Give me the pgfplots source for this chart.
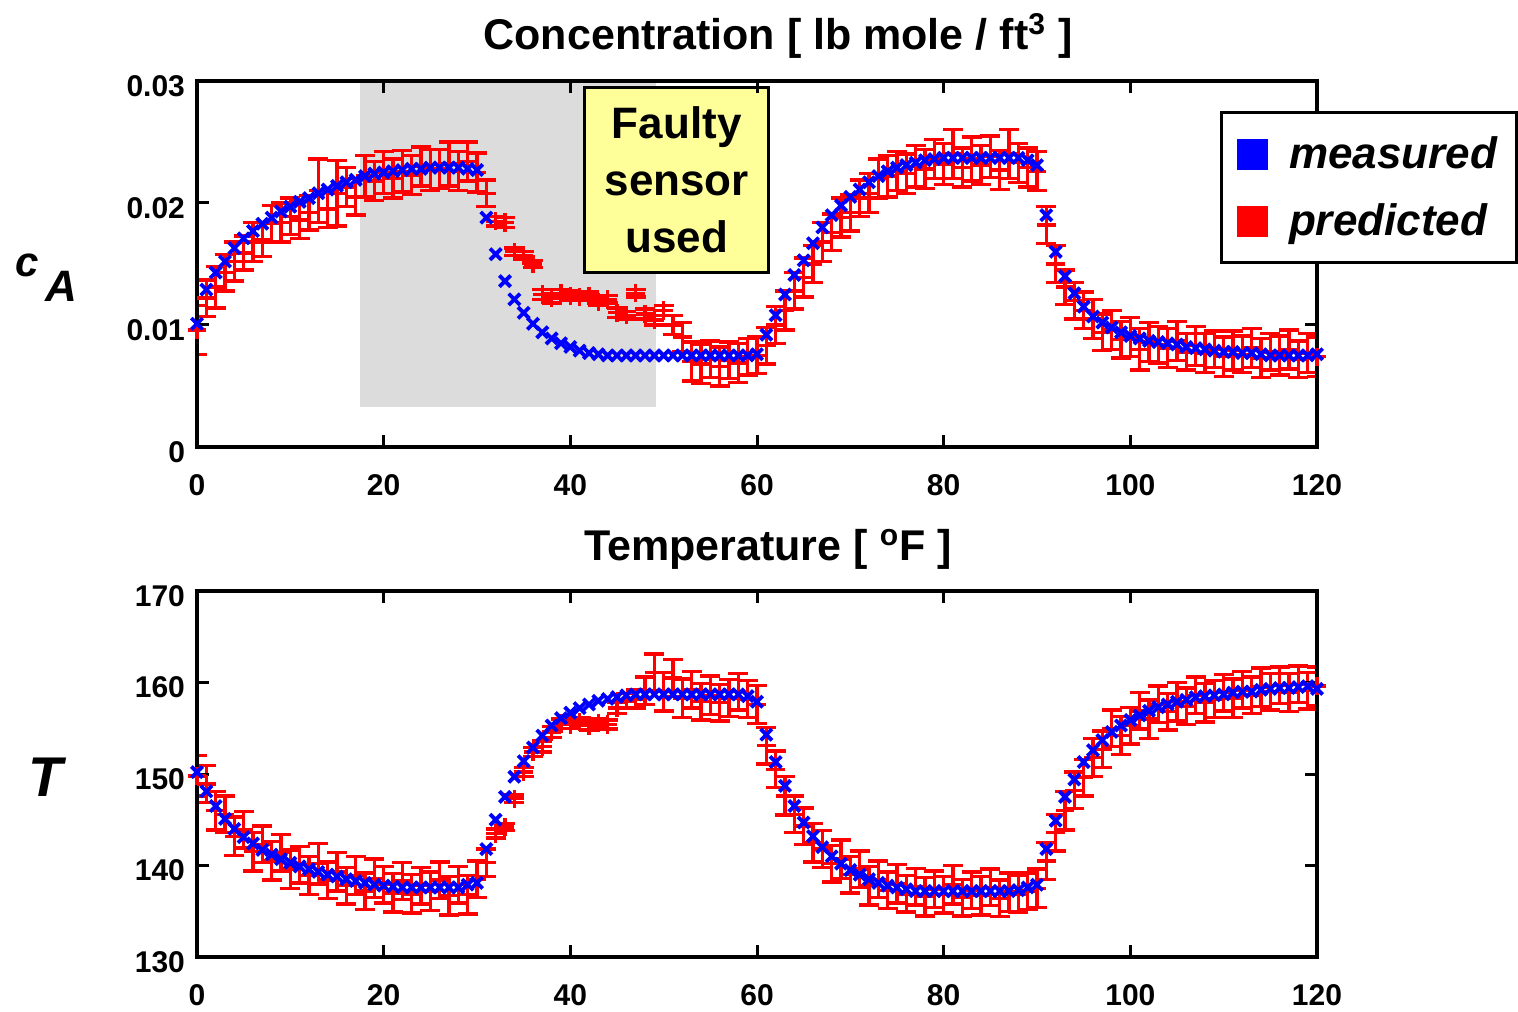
\documentclass[border=0pt]{standalone}
\usepackage{pgfplots}
\pgfplotsset{compat=1.18}
\usepackage{pgfplotstable}
\usepackage{fontspec}
\setmainfont{Liberation Sans}
\definecolor{zonegray}{RGB}{220,220,220}
\definecolor{note}{RGB}{255,255,153}

% x: time, ca/T: measured, cap/Tp: predicted, cae/Te: error of prediction
\pgfplotstableread{
x ca cap cae T Tp Te
0 0.0101 0.0096 0.0020 150.2 149.8 2.2
1 0.0129 0.0122 0.0015 148.1 148.9 2.0
2 0.0143 0.0131 0.0017 146.5 146.0 2.1
3 0.0152 0.0143 0.0015 145.1 145.6 2.0
4 0.0163 0.0152 0.0016 144.0 143.2 2.1
5 0.0171 0.0159 0.0014 143.1 143.9 2.0
6 0.0177 0.0168 0.0016 142.4 141.5 2.1
7 0.0183 0.0170 0.0014 141.7 142.3 2.0
8 0.0188 0.0183 0.0015 141.2 140.5 2.1
9 0.0193 0.0184 0.0016 140.7 141.4 2.0
10 0.0197 0.0189 0.0015 140.3 139.6 2.1
11 0.0201 0.0186 0.0015 139.9 140.1 2.0
12 0.0204 0.0192 0.0014 139.6 138.9 2.1
13 0.0208 0.0210 0.0026 139.3 140.2 2.2
14 0.0211 0.0195 0.0015 139.0 138.4 2.0
15 0.0214 0.0208 0.0027 138.8 139.3 2.1
16 0.0217 0.0213 0.0016 138.5 137.8 2.0
17 0.0219 0.0205 0.0015 138.3 138.9 2.1
18 0.0222 0.0222 0.0017 138.1 137.2 2.0
19 0.0224 0.0218 0.0016 137.9 138.6 2.1
20 0.0225 0.0225 0.0017 137.8 137.9 2.0
21 0.0226 0.0220 0.0016 137.7 137.0 2.1
22 0.0227 0.0226 0.0017 137.6 138.3 2.0
23 0.0228 0.0223 0.0016 137.6 136.9 2.1
24 0.0228 0.0230 0.0016 137.6 137.8 2.0
25 0.0229 0.0227 0.0017 137.6 137.2 2.1
26 0.0229 0.0228 0.0016 137.6 138.4 2.0
27 0.0229 0.0232 0.0018 137.6 136.7 2.1
28 0.0229 0.0226 0.0016 137.6 137.9 2.0
29 0.0228 0.0234 0.0016 137.9 136.8 2.1
30 0.0227 0.0225 0.0016 138.1 138.5 2.0
31 0.0188 0.0208 0.0011 141.8 140.3 1.5
32 0.0158 0.0185 0.0004 145.0 143.5 0.5
33 0.0136 0.0184 0.0004 147.5 144.2 0.4
34 0.0121 0.0160 0.0003 149.7 147.3 0.4
35 0.0110 0.0157 0.0003 151.4 150.2 0.5
36 0.0101 0.0150 0.0003 152.9 152.4 0.5
37 0.0094 0.0125 0.0004 154.2 153.0 0.6
38 0.0089 0.0122 0.0004 155.3 154.6 0.6
39 0.0085 0.0126 0.0003 156.1 155.5 0.5
40 0.0082 0.0124 0.0004 156.7 155.4 0.4
41 0.0079 0.0123 0.0003 157.2 155.7 0.4
42 0.0077 0.0124 0.0003 157.6 155.3 0.5
43 0.0076 0.0119 0.0003 158.0 155.6 0.4
44 0.0075 0.0121 0.0003 158.2 155.4 0.5
45 0.0075 0.0110 0.0004 158.4 157.2 0.6
46 0.0075 0.0108 0.0003 158.6 158.0 0.8
47 0.0075 0.0126 0.0003 158.7 158.2 1.0
48 0.0075 0.0109 0.0004 158.7 159.1 1.5
49 0.0075 0.0104 0.0004 158.7 161.1 2.0
50 0.0075 0.0112 0.0004 158.7 159.0 2.1
51 0.0075 0.0100 0.0008 158.7 160.5 2.0
52 0.0075 0.0090 0.0012 158.7 158.3 2.1
53 0.0075 0.0070 0.0016 158.7 159.2 2.0
54 0.0075 0.0068 0.0016 158.7 157.9 2.0
55 0.0075 0.0072 0.0015 158.7 158.6 2.1
56 0.0075 0.0066 0.0016 158.7 157.8 2.0
57 0.0075 0.0071 0.0015 158.7 158.3 2.0
58 0.0075 0.0069 0.0016 158.7 159.0 2.0
59 0.0075 0.0074 0.0015 158.5 158.2 2.0
60 0.0076 0.0075 0.0015 157.9 157.6 2.1
61 0.0092 0.0083 0.0015 154.3 153.1 2.0
62 0.0108 0.0100 0.0015 151.3 150.5 2.0
63 0.0125 0.0112 0.0016 148.7 147.6 2.1
64 0.0141 0.0128 0.0015 146.5 145.6 2.0
65 0.0153 0.0139 0.0016 144.7 144.3 2.0
66 0.0167 0.0150 0.0015 143.2 142.5 2.1
67 0.0180 0.0168 0.0016 142.0 141.8 2.0
68 0.0190 0.0176 0.0015 141.0 140.2 2.0
69 0.0198 0.0188 0.0016 140.2 140.7 2.1
70 0.0205 0.0192 0.0015 139.5 139.0 2.0
71 0.0211 0.0204 0.0015 139.0 139.6 2.0
72 0.0217 0.0208 0.0016 138.5 137.8 2.1
73 0.0222 0.0220 0.0016 138.1 138.5 2.0
74 0.0226 0.0222 0.0017 137.8 137.3 2.0
75 0.0229 0.0226 0.0016 137.6 138.0 2.1
76 0.0231 0.0224 0.0016 137.4 136.9 2.0
77 0.0233 0.0230 0.0017 137.2 137.7 2.0
78 0.0235 0.0228 0.0016 137.2 136.6 2.1
79 0.0236 0.0236 0.0016 137.2 137.4 2.0
80 0.0237 0.0232 0.0017 137.2 136.8 2.0
81 0.0237 0.0240 0.0020 137.2 137.9 2.1
82 0.0237 0.0229 0.0016 137.2 136.5 2.0
83 0.0237 0.0236 0.0018 137.2 137.3 2.0
84 0.0237 0.0231 0.0016 137.2 136.7 2.1
85 0.0237 0.0238 0.0017 137.2 137.6 2.0
86 0.0237 0.0227 0.0016 137.2 136.4 2.0
87 0.0237 0.0240 0.0020 137.2 137.1 2.1
88 0.0237 0.0233 0.0016 137.3 136.9 2.0
89 0.0235 0.0229 0.0016 137.6 137.2 2.0
90 0.0231 0.0226 0.0016 137.9 137.5 2.1
91 0.0190 0.0182 0.0015 141.8 140.5 2.0
92 0.0160 0.0150 0.0015 144.9 143.6 2.0
93 0.0140 0.0131 0.0014 147.5 146.0 2.1
94 0.0126 0.0120 0.0015 149.4 148.2 2.0
95 0.0115 0.0112 0.0015 151.3 149.6 2.0
96 0.0107 0.0105 0.0016 152.6 151.8 2.1
97 0.0102 0.0094 0.0015 153.7 152.7 2.0
98 0.0098 0.0096 0.0016 154.6 155.0 2.0
99 0.0094 0.0088 0.0015 155.3 154.2 2.1
100 0.0091 0.0090 0.0016 155.9 155.3 2.0
101 0.0089 0.0080 0.0017 156.4 156.9 2.0
102 0.0087 0.0086 0.0016 156.9 156.0 2.1
103 0.0086 0.0084 0.0015 157.3 157.6 2.0
104 0.0085 0.0081 0.0016 157.6 156.8 2.0
105 0.0084 0.0087 0.0016 157.9 157.9 2.1
106 0.0082 0.0078 0.0015 158.1 157.4 2.0
107 0.0081 0.0083 0.0016 158.4 158.6 2.0
108 0.0080 0.0077 0.0016 158.5 157.8 2.1
109 0.0079 0.0080 0.0015 158.6 158.2 2.0
110 0.0078 0.0074 0.0016 158.7 158.9 2.0
111 0.0078 0.0079 0.0016 158.9 158.3 2.1
112 0.0077 0.0076 0.0015 159.0 159.2 2.0
113 0.0077 0.0081 0.0016 159.0 158.6 2.0
114 0.0076 0.0073 0.0016 159.2 159.5 2.1
115 0.0075 0.0078 0.0015 159.3 159.0 2.0
116 0.0075 0.0075 0.0016 159.4 159.7 2.0
117 0.0075 0.0080 0.0016 159.4 158.9 2.1
118 0.0075 0.0072 0.0015 159.5 159.8 2.0
119 0.0075 0.0077 0.0016 159.6 159.1 2.0
120 0.0076 0.0074 0.0016 159.3 159.6 2.1
}\datatable

\pgfplotsset{
  panel/.style={
    scale only axis, width=560pt, height=183pt,
    xmin=0, xmax=120,
    xtick={0,20,40,60,80,100,120},
    xticklabels={0,20,40,60,80,100,120},
    axis line style={line width=2pt},
    tick style={line width=1.5pt, black},
    major tick length=6pt,
    tick label style={font=\fontsize{15}{18}\selectfont\bfseries},
    xticklabel style={yshift=-10pt},
    yticklabel style={xshift=-2.5pt, yshift=-2.5pt},
    scaled y ticks=false,
    axis on top,
  },
  meas/.style={forget plot, only marks, mark=x, color=blue,
    mark size=4pt, mark options={line width=1.9pt}},
  pred/.style={forget plot, only marks, mark=+, color=red,
    mark size=4.6pt, mark options={line width=1.7pt},
    error bars/.cd, y dir=both, y explicit,
    error bar style={line width=1.7pt, red},
    error mark=-,
    error mark options={rotate=90, line width=1.7pt, red, mark size=5pt}},
}

\begin{document}
\begin{tikzpicture}
\path[use as bounding box] (0,0) rectangle (759pt,505.5pt);

% concentration panel
\begin{axis}[panel, at={(98.5pt,282pt)}, anchor=south west,
  ymin=0, ymax=0.03,
  ytick={0,0.01,0.02,0.03}, yticklabels={0,0.01,0.02,0.03},
  legend style={at={(0.913,0.918)}, anchor=north west,
    draw=black, line width=1.5pt,
    font=\fontsize{22}{26}\selectfont\bfseries\itshape,
    row sep=12pt, column sep=9pt, inner xsep=8pt, inner ysep=10pt},
  legend cell align=left,
]
\fill[zonegray] (axis cs:17.5,0.0033) rectangle (axis cs:49.2,0.03);
\addplot[pred] table[x=x, y=cap, y error=cae] {\datatable};
\addplot[meas] table[x=x, y=ca] {\datatable};
\addlegendimage{only marks, mark=square*, blue, mark size=7.5pt, mark options={line width=0.1pt}}
\addlegendentry{measured}
\addlegendimage{only marks, mark=square*, red, mark size=7.5pt, mark options={line width=0.1pt}}
\addlegendentry{predicted}
\node[draw=black, line width=1.5pt, fill=note, align=center,
  minimum width=92pt, minimum height=92.5pt, inner sep=2pt,
  font=\fontsize{22}{28.5}\selectfont\bfseries]
  at (axis cs:51.4,0.0219) {Faulty\\sensor\\used};
\end{axis}

% temperature panel
\begin{axis}[panel, at={(98.5pt,27pt)}, anchor=south west,
  ymin=130, ymax=170,
  ytick={130,140,150,160,170}, yticklabels={130,140,150,160,170},
]
\addplot[pred] table[x=x, y=Tp, y error=Te] {\datatable};
\addplot[meas] table[x=x, y=T] {\datatable};
\end{axis}

% titles and axis symbols
\node[anchor=base, font=\fontsize{21.5}{24}\selectfont\bfseries]
  at (389pt,480.5pt) {Concentration [ lb mole / ft\textsuperscript{3} ]};
\node[anchor=base, font=\fontsize{21.5}{24}\selectfont\bfseries]
  at (384pt,225pt) {Temperature [ \textsuperscript{o}F ]};
\node[anchor=base west, inner sep=0pt, font=\fontsize{21}{24}\selectfont\bfseries\itshape]
  at (7.5pt,367pt) {c};
\node[anchor=base west, inner sep=0pt, font=\fontsize{22}{24}\selectfont\bfseries\itshape]
  at (22.5pt,354.5pt) {A};
\node[anchor=base west, inner sep=0pt, font=\fontsize{28}{30}\selectfont\bfseries\itshape]
  at (14pt,107pt) {T};
\end{tikzpicture}
\end{document}
